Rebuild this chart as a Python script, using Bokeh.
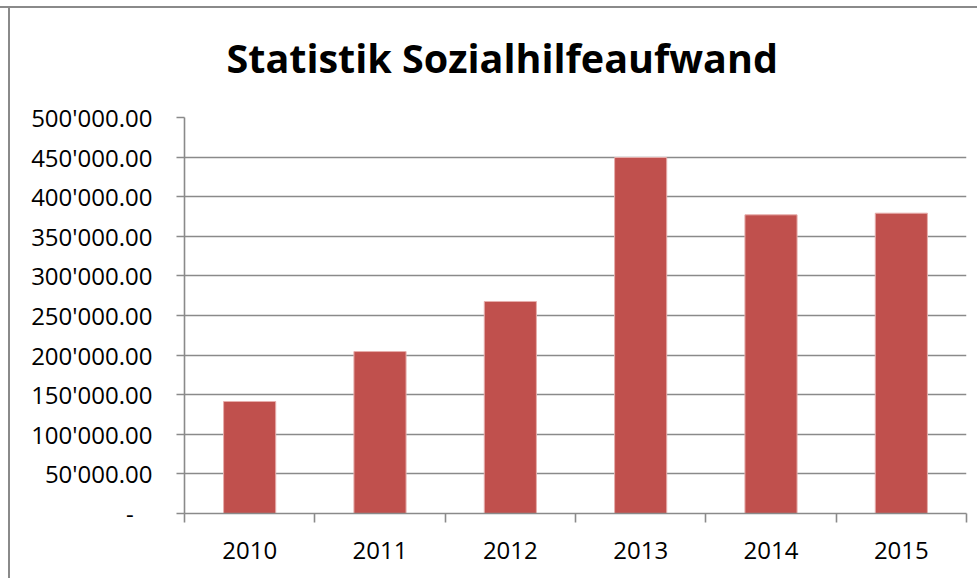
from bokeh.plotting import figure
from bokeh.models import Range1d, FixedTicker
from bokeh.embed import file_html
from bokeh.resources import INLINE

# ---- data ----
years = ["2010", "2011", "2012", "2013", "2014", "2015"]
aufwand = [141400, 204500, 267700, 449500, 377100, 379200]
y_ticks = [0, 50000, 100000, 150000, 200000, 250000, 300000, 350000, 400000, 450000, 500000]
y_tick_labels = ["-\u00a0\u00a0\u00a0", "50'000.00", "100'000.00", "150'000.00", "200'000.00",
                 "250'000.00", "300'000.00", "350'000.00", "400'000.00", "450'000.00", "500'000.00"]
title_text = "Statistik Sozialhilfeaufwand"

GRID = "#8a8a8a"
BAR = "#C0504D"
FONT = "Open Sans"

n = len(years)
x_centers = [i + 0.5 for i in range(n)]

p = figure(width=977, height=582,
           x_range=Range1d(0, n), y_range=Range1d(y_ticks[0], y_ticks[-1]),
           output_backend="svg", toolbar_location=None,
           min_border_left=184, min_border_right=11, min_border_top=121, min_border_bottom=65)

# outer chart frame (left and top edges), drawn as the host element's background
p.styles = {
    "margin-top": "-4px",
    "background": ("linear-gradient(#8a8a8a, #8a8a8a) 0px 10px / 100% 2px no-repeat, "
                   "linear-gradient(#8a8a8a, #8a8a8a) 8px 10px / 2px 100% no-repeat, #ffffff"),
}

p.vbar(x=x_centers, top=aufwand, width=0.4, bottom=0,
       fill_color=BAR, line_color="#e7aeac", line_width=1)

p.outline_line_color = None
p.background_fill_color = "white"
p.border_fill_color = None

# title
p.title.text = title_text
p.title.text_font = FONT
p.title.text_font_style = "bold"
p.title.text_font_size = "39.5px"
p.title.text_color = "black"
p.title.align = "left"
p.title.offset = 42
p.title.standoff = 65

# grids
p.xgrid.grid_line_color = None
p.ygrid.grid_line_color = GRID
p.ygrid.grid_line_width = 1.6
p.ygrid.ticker = FixedTicker(ticks=y_ticks)

# y axis
ya = p.yaxis[0]
ya.ticker = FixedTicker(ticks=y_ticks)
ya.major_label_overrides = dict(zip(y_ticks, y_tick_labels))
ya.axis_line_color = GRID
ya.axis_line_width = 1.6
ya.major_tick_line_color = GRID
ya.major_tick_line_width = 1.6
ya.major_tick_in = 0
ya.major_tick_out = 8
ya.minor_tick_line_color = None
ya.major_label_text_font = FONT
ya.major_label_text_font_size = "24px"
ya.major_label_text_color = "black"
ya.major_label_standoff = 24

# x axis: labels at centers, ticks at category boundaries
xa = p.xaxis[0]
xa.ticker = FixedTicker(ticks=x_centers, minor_ticks=list(range(n + 1)))
xa.major_label_overrides = dict(zip(x_centers, years))
xa.axis_line_color = GRID
xa.axis_line_width = 1.6
xa.major_tick_line_color = None
xa.major_tick_in = 0
xa.major_tick_out = 0
xa.minor_tick_line_color = GRID
xa.minor_tick_line_width = 1.6
xa.minor_tick_in = 0
xa.minor_tick_out = 9
xa.major_label_text_font = FONT
xa.major_label_text_font_size = "24px"
xa.major_label_text_color = "black"
xa.major_label_standoff = 19

open("out.html", "w").write(file_html(p, INLINE))
